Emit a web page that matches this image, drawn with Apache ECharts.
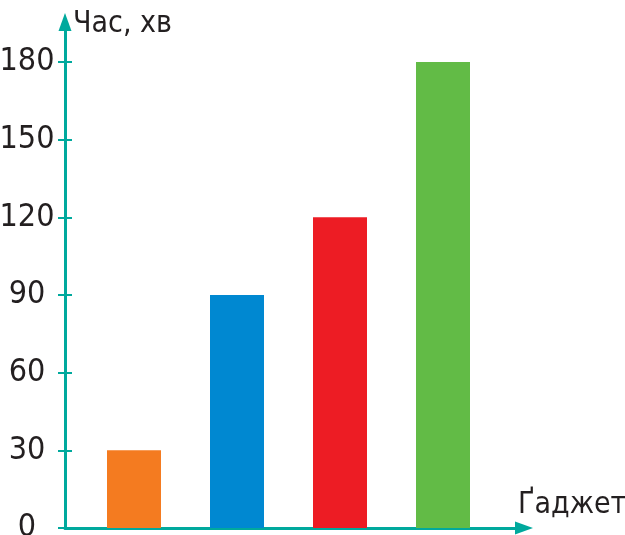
<!DOCTYPE html>
<html>
<head>
<meta charset="utf-8">
<script src="https://cdn.jsdelivr.net/npm/echarts@6/dist/echarts.min.js"></script>
<style>html,body{margin:0;padding:0;background:#fff}#c{width:625px;height:535px}</style>
</head>
<body>
<div id="c"></div>
<script>
const categories = ['A', 'B', 'C', 'D'];
const values = [30, 90, 120, 180];
const barColors = ['#f47b20', '#0088d1', '#ed1c24', '#62bb46'];
const yTicks = [0, 30, 60, 90, 120, 150, 180];
const yName = 'Час, хв';
const xName = 'Ґаджет';

const FONT = "'DejaVu Sans Condensed', 'Liberation Sans', sans-serif";
const AXIS = '#00a99d';
const TXT = '#231f20';
const FS = 32;
const NFS = 30;

const chart = echarts.init(document.getElementById('c'), null, {renderer: 'canvas'});
chart.setOption({
  animation: false,
  backgroundColor: '#fff',
  grid: [
    {left: 82.5, width: 412, top: 62, bottom: 7, outerBoundsMode: 'none', containLabel: false},
    {left: 65, right: 101, top: 22, bottom: 7, outerBoundsMode: 'none', containLabel: false}
  ],
  xAxis: [
    {type: 'category', gridIndex: 0, data: categories,
     axisLine: {show: false}, axisTick: {show: false}, axisLabel: {show: false}, splitLine: {show: false}},
    {type: 'value', gridIndex: 1, min: 0, max: 1,
     axisLine: {show: true, lineStyle: {color: AXIS, width: 3}, symbol: ['none', 'triangle'], symbolSize: [13, 18]},
     axisTick: {show: false}, axisLabel: {show: false}, splitLine: {show: false},
     name: xName, nameLocation: 'end', nameGap: -6,
     nameTextStyle: {fontFamily: FONT, fontSize: NFS, color: TXT, align: 'left', verticalAlign: 'bottom', padding: [0, 0, 8, 0]}}
  ],
  yAxis: [
    {type: 'value', gridIndex: 0, min: yTicks[0], max: yTicks[yTicks.length - 1], interval: yTicks[1] - yTicks[0],
     offset: 17.5,
     axisLine: {show: false},
     axisTick: {show: true, length: 7, lineStyle: {color: AXIS, width: 2}},
     axisLabel: {show: true, fontFamily: FONT, fontSize: FS, color: TXT, align: 'center', margin: 38, padding: [0, 0, 6, 0]},
     splitLine: {show: false}},
    {type: 'value', gridIndex: 0, min: yTicks[0], max: yTicks[yTicks.length - 1], interval: yTicks[1] - yTicks[0],
     position: 'left', offset: 17.5,
     axisLine: {show: false},
     axisTick: {show: true, inside: true, length: 7, lineStyle: {color: AXIS, width: 2}},
     axisLabel: {show: false}, splitLine: {show: false}},
    {type: 'value', gridIndex: 1, min: 0, max: 1,
     axisLine: {show: true, lineStyle: {color: AXIS, width: 3}, symbol: ['none', 'triangle'], symbolSize: [13, 18]},
     axisTick: {show: false}, axisLabel: {show: false}, splitLine: {show: false},
     name: yName, nameLocation: 'end', nameGap: -2,
     nameTextStyle: {fontFamily: FONT, fontSize: NFS, color: TXT, align: 'left', verticalAlign: 'middle', padding: [0, 0, 0, 8]}}
  ],
  series: [{
    type: 'bar', xAxisIndex: 0, yAxisIndex: 0, barWidth: 54,
    data: values.map((v, i) => ({value: v, itemStyle: {color: barColors[i]}})),
    z: 1
  }]
});
</script>
</body>
</html>
